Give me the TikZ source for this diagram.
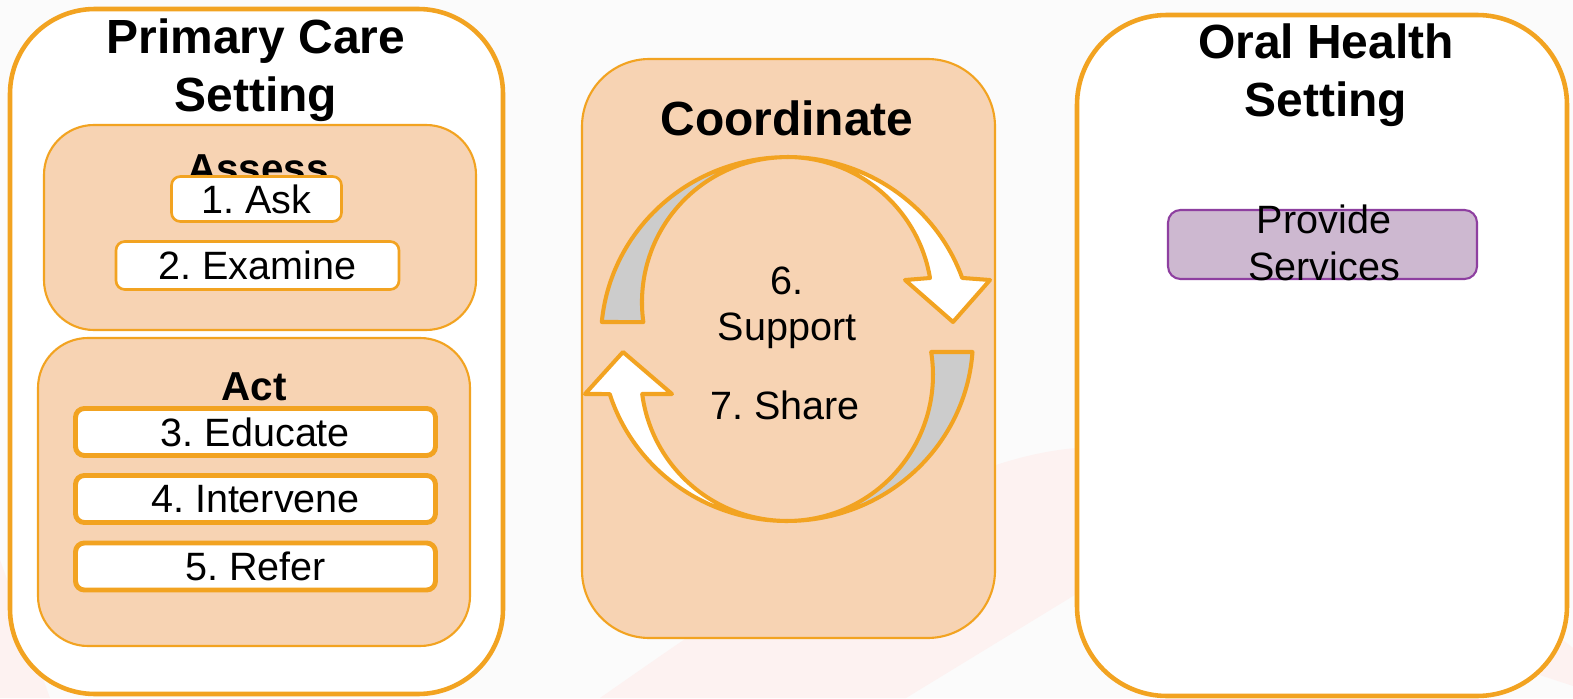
\documentclass[tikz,border=0pt]{standalone}
\usepackage{fontspec}
\setmainfont{Liberation Sans}
\usepackage{tikz}
\frenchspacing
\definecolor{ohorange}{RGB}{242,163,33}
\definecolor{ohpeach}{RGB}{247,211,179}
\definecolor{ohgray}{RGB}{204,204,204}
\definecolor{ohlilac}{RGB}{205,184,208}
\definecolor{ohpurple}{RGB}{142,63,160}
\definecolor{ohback}{RGB}{251,251,251}
\definecolor{ohpink}{RGB}{253,242,241}
\newcommand\headfont{\fontsize{27.3}{33}\selectfont\bfseries}
\newcommand\phasefont{\fontsize{23}{28}\selectfont\bfseries}
\newcommand\taskfont{\fontsize{22.5}{26.5}\selectfont}
\tikzset{
	setting/.style={draw=ohorange,fill=white,line width=2.6pt,rounded corners=1.7cm},
	phase/.style={draw=ohorange,fill=ohpeach,line width=1.2pt,rounded corners=1cm},
	task/.style 2 args={draw=ohorange,fill=white,rounded corners=5pt,inner sep=0pt,minimum width=#1,minimum height=#2,font=\taskfont},
	heading/.style={font=\headfont,align=center},
	ring/.style={draw=ohorange,line width=2.3pt,line join=round}
}
\begin{document}
\begin{tikzpicture}[x=0.02cm,y=0.02cm]
	\fill[ohback] (0,0) rectangle (1573,698);
	\fill[ohpink] (600,0) .. controls (800,140) and (950,240) .. (1077,250) .. controls (1250,262) and (1450,150) .. (1573,50) -- (1573,12) .. controls (1400,70) and (1200,120) .. (1078,105) -- (906,0) -- cycle;
	\fill[ohpink] (0,138) -- (50,0) -- (0,0) -- cycle;
	
	% primary care setting
	\draw[setting] (10,4) rectangle (503,689);
	\node[heading] (primary) at (256,628) {Primary Care\\Setting};
	\draw[phase] (44,368) rectangle (476,573);
	\node[font=\phasefont,anchor=base] (assess) at (258,515) {Assess};
	\node[task={3.4cm}{0.9cm},line width=1.5pt] (ask) at (256.5,499) {1. Ask};
	\node[task={5.66cm}{0.96cm},line width=1.5pt] (examine) at (257.5,432.5) {2. Examine};
	\draw[phase] (38,52) rectangle (470,360);
	\node[font=\phasefont,anchor=base] (act) at (254,298) {Act};
	\node[task={7.2cm}{0.94cm},line width=2.8pt] (educate) at (255.5,266) {3. Educate};
	\node[task={7.2cm}{0.94cm},line width=2.8pt] (intervene) at (255.5,199) {4. Intervene};
	\node[task={7.2cm}{0.94cm},line width=2.8pt] (refer) at (255.5,131.5) {5. Refer};
	
	% coordinate
	\draw[phase,rounded corners=1.35cm] (582,60) rectangle (995,639);
	\node[heading,anchor=base] (coordinate) at (787,562) {Coordinate};
	\draw[ring,fill=ohgray] (601.8,376) arc[start angle=174.6,end angle=90,x radius=186,y radius=182] arc[start angle=90,end angle=187.9,radius=145] -- cycle;
	\draw[ring,fill=white] (787,541) arc[start angle=90,end angle=19.6,x radius=186,y radius=182] -- (990,418) -- (953,376) -- (905,418) -- (930,420) arc[start angle=9.53,end angle=90,radius=145] -- cycle;
	\draw[ring,fill=ohgray] (972.5,346) arc[start angle=-4.1,end angle=-90,x radius=186,y radius=182] arc[start angle=-90,end angle=9.06,radius=146] -- cycle;
	\draw[ring,fill=white] (787,177) arc[start angle=-90,end angle=-162.4,x radius=186,y radius=182] -- (585,304) -- (623,346) -- (672,304) -- (642.2,304) arc[start angle=187.5,end angle=270,radius=146] -- cycle;
	\node[font=\taskfont,align=center] (support) at (787,390) {6.\\Support};
	\node[font=\taskfont,anchor=base] (share) at (785,279) {7. Share};
	
	% oral health setting
	\draw[setting,rounded corners=1.8cm] (1077,2) rectangle (1567,683);
	\node[heading] (oral) at (1326,623) {Oral Health\\Setting};
	\node[draw=ohpurple,fill=ohlilac,line width=1.2pt,rounded corners=0.25cm,minimum width=6.18cm,minimum height=1.38cm] (services) at (1322.5,453.5) {};
	\node[font=\taskfont,align=center] (provide) at (1324,455) {Provide\\Services};
\end{tikzpicture}
\end{document}
